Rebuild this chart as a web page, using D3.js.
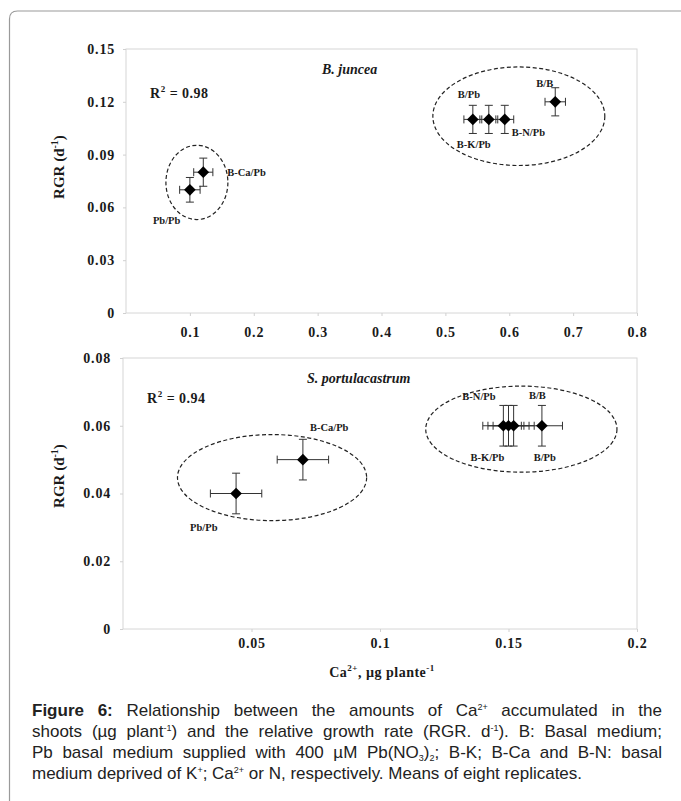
<!DOCTYPE html>
<html>
<head>
<meta charset="utf-8">
<script src="https://cdn.jsdelivr.net/npm/d3@7"></script>
<style>
body { margin: 0; background: #fff; }
svg { position: absolute; left: 0; top: 0; }
.caption { position: absolute; left: 32px; width: 630px; font-family: "Liberation Sans", Arial, sans-serif;
  font-size: 17px; color: #222; white-space: nowrap; }
.caption div { height: 21px; line-height: 21px; text-align: justify; text-align-last: justify; }
.caption div.last { text-align-last: left; }
.caption sup { font-size: 9px; line-height: 0; vertical-align: 6px; }
.caption sub { font-size: 9px; line-height: 0; vertical-align: -3px; }
</style>
</head>
<body>
<script>
var width = 681, height = 801;

// B. juncea (upper panel)
var junceaNames = ["Pb/Pb", "B-Ca/Pb", "B/Pb", "B-K/Pb", "B-N/Pb", "B/B"];
var junceaCa = [0.100, 0.121, 0.543, 0.568, 0.593, 0.672];
var junceaRgr = [0.070, 0.080, 0.110, 0.110, 0.110, 0.120];
var junceaCaErr = [0.016, 0.015, 0.014, 0.014, 0.014, 0.016];
var junceaRgrErr = [0.007, 0.008, 0.008, 0.008, 0.008, 0.008];
var junceaXTicks = [0.1, 0.2, 0.3, 0.4, 0.5, 0.6, 0.7, 0.8];
var junceaYTicks = [0, 0.03, 0.06, 0.09, 0.12, 0.15];
var junceaEllCx = [0.111, 0.615], junceaEllCy = [0.0742, 0.1118];
var junceaEllRx = [0.0485, 0.1346], junceaEllRy = [0.0211, 0.028];

// S. portulacastrum (lower panel)
var portuNames = ["Pb/Pb", "B-Ca/Pb", "B-N/Pb", "B-K/Pb", "B/Pb", "B/B"];
var portuCa = [0.044, 0.070, 0.148, 0.150, 0.152, 0.163];
var portuRgr = [0.040, 0.050, 0.060, 0.060, 0.060, 0.060];
var portuCaErr = [0.010, 0.010, 0.008, 0.008, 0.008, 0.008];
var portuRgrErr = [0.006, 0.006, 0.006, 0.006, 0.006, 0.006];
var portuXTicks = [0.05, 0.1, 0.15, 0.2];
var portuYTicks = [0, 0.02, 0.04, 0.06, 0.08];
var portuEllCx = [0.058, 0.155], portuEllCy = [0.0447, 0.059];
var portuEllRx = [0.0368, 0.0372], portuEllRy = [0.0127, 0.0127];

// label offsets in px from each point (layout only)
var junceaLabelDx = [-37, 24, -15, -32, 7, -19];
var junceaLabelDy = [34, 4, -21, 29, 17, -15];
var portuLabelDx = [-46, 7, -41, -38, 20, -13];
var portuLabelDy = [37, -29, -26, 35, 35, -27];

var serif = "'Liberation Serif', 'Times New Roman', serif";

var svg = d3.select("body").append("svg")
    .attr("width", width)
    .attr("height", height);

// page frame (rounded top-left corner)
svg.append("path")
    .attr("d", "M9.5," + height + " L9.5,19 Q9.5,11 17.5,11 L" + width + ",11")
    .style("fill", "none")
    .style("stroke", "#9a9a9a")
    .style("stroke-width", 1.2);

function drawPanel(cfg) {
    var x = d3.scaleLinear().domain(cfg.xDomain).range([cfg.left, cfg.right]);
    var y = d3.scaleLinear().domain(cfg.yDomain).range([cfg.bottom, cfg.top]);

    svg.append("rect")
        .attr("x", cfg.left).attr("y", cfg.top)
        .attr("width", cfg.right - cfg.left)
        .attr("height", cfg.bottom - cfg.top)
        .style("fill", "none")
        .style("stroke", "#d6d6d6");

    var fmt = function(d){ return String(d); };

    var gx = svg.append("g")
        .attr("transform", "translate(0," + cfg.bottom + ")")
        .call(d3.axisBottom(x).tickValues(cfg.xTicks).tickSize(3).tickFormat(fmt));
    gx.select(".domain").remove();
    gx.selectAll("line").style("stroke", "#d0d0d0");
    gx.selectAll("text")
        .attr("y", cfg.xLabelY).attr("dy", "0.35em")
        .style("font-family", serif).style("font-weight", "bold")
        .style("font-size", "14px").style("letter-spacing", "0.8px")
        .style("fill", "#1a1a1a");

    var gy = svg.append("g")
        .attr("transform", "translate(" + cfg.left + ",0)")
        .call(d3.axisLeft(y).tickValues(cfg.yTicks).tickSize(3).tickPadding(cfg.yPad).tickFormat(fmt));
    gy.select(".domain").remove();
    gy.selectAll("line").style("stroke", "#d0d0d0");
    gy.selectAll("text")
        .style("font-family", serif).style("font-weight", "bold")
        .style("font-size", "14px").style("letter-spacing", "0.8px")
        .style("fill", "#1a1a1a");

    // y axis title
    var yt = svg.append("text")
        .attr("transform", "translate(" + cfg.yTitleX + "," + cfg.yTitleY + ") rotate(-90)")
        .attr("text-anchor", "middle")
        .style("font-family", serif).style("font-weight", "bold")
        .style("font-size", "15px").style("fill", "#1a1a1a");
    yt.append("tspan").text("RGR (d");
    yt.append("tspan").attr("dy", "-6").style("font-size", "10px").text("-1");
    yt.append("tspan").attr("dy", "6").text(")");

    // species title
    svg.append("text")
        .attr("x", cfg.titleX).attr("y", cfg.titleY)
        .style("font-family", serif).style("font-weight", "bold").style("font-style", "italic")
        .style("font-size", "14px").style("fill", "#1a1a1a")
        .text(cfg.title);

    // R2
    var r2 = svg.append("text")
        .attr("x", cfg.r2X).attr("y", cfg.r2Y)
        .style("font-family", serif).style("font-weight", "bold")
        .style("font-size", "14px").style("letter-spacing", "0.5px").style("fill", "#1a1a1a");
    r2.append("tspan").text("R");
    r2.append("tspan").attr("dy", "-6").style("font-size", "9px").text("2");
    r2.append("tspan").attr("dy", "6").text(" = " + cfg.r2);

    // dashed ellipses
    svg.selectAll(null)
        .data(cfg.ellCx)
        .enter().append("ellipse")
        .attr("cx", function(d){ return x(d); })
        .attr("cy", function(d, i){ return y(cfg.ellCy[i]); })
        .attr("rx", function(d, i){ return x(d + cfg.ellRx[i]) - x(d); })
        .attr("ry", function(d, i){ return y(cfg.ellCy[i] - cfg.ellRy[i]) - y(cfg.ellCy[i]); })
        .style("fill", "none")
        .style("stroke", "#222")
        .style("stroke-width", 1.2)
        .style("stroke-dasharray", "4,2.5");

    var idx = d3.range(cfg.ca.length);
    var cap = 4;
    var bars = svg.append("g").style("stroke", "#333").style("stroke-width", 1);

    idx.forEach(function(i){
        var cx = x(cfg.ca[i]), cy = y(cfg.rgr[i]);
        var y0 = y(cfg.rgr[i] - cfg.rgrErr[i]), y1 = y(cfg.rgr[i] + cfg.rgrErr[i]);
        var x0 = x(cfg.ca[i] - cfg.caErr[i]), x1 = x(cfg.ca[i] + cfg.caErr[i]);
        bars.append("line").attr("x1", cx).attr("x2", cx).attr("y1", y0).attr("y2", y1);
        bars.append("line").attr("x1", cx - cap).attr("x2", cx + cap).attr("y1", y0).attr("y2", y0);
        bars.append("line").attr("x1", cx - cap).attr("x2", cx + cap).attr("y1", y1).attr("y2", y1);
        bars.append("line").attr("x1", x0).attr("x2", x1).attr("y1", cy).attr("y2", cy);
        bars.append("line").attr("x1", x0).attr("x2", x0).attr("y1", cy - cap).attr("y2", cy + cap);
        bars.append("line").attr("x1", x1).attr("x2", x1).attr("y1", cy - cap).attr("y2", cy + cap);
    });

    svg.selectAll(null)
        .data(idx)
        .enter().append("path")
        .attr("d", d3.symbol().type(d3.symbolSquare).size(68))
        .attr("transform", function(i){ return "translate(" + x(cfg.ca[i]) + "," + y(cfg.rgr[i]) + ") rotate(45)"; })
        .style("fill", "#000");

    svg.selectAll(null)
        .data(idx)
        .enter().append("text")
        .attr("x", function(i){ return x(cfg.ca[i]) + cfg.labelDx[i]; })
        .attr("y", function(i){ return y(cfg.rgr[i]) + cfg.labelDy[i]; })
        .style("font-family", serif).style("font-weight", "bold")
        .style("font-size", "10.5px").style("fill", "#1a1a1a")
        .text(function(i){ return cfg.names[i]; });
}

drawPanel({
    left: 126, right: 637, top: 49, bottom: 313,
    xDomain: [0, 0.8], yDomain: [0, 0.15],
    xTicks: junceaXTicks, yTicks: junceaYTicks,
    xLabelY: 19, yPad: 8,
    yTitleX: 64, yTitleY: 167,
    title: "B. juncea", titleX: 322, titleY: 74,
    r2: "0.98", r2X: 150, r2Y: 98,
    names: junceaNames, ca: junceaCa, rgr: junceaRgr,
    caErr: junceaCaErr, rgrErr: junceaRgrErr,
    ellCx: junceaEllCx, ellCy: junceaEllCy, ellRx: junceaEllRx, ellRy: junceaEllRy,
    labelDx: junceaLabelDx, labelDy: junceaLabelDy
});

drawPanel({
    left: 123, right: 637, top: 358, bottom: 629,
    xDomain: [0, 0.2], yDomain: [0, 0.08],
    xTicks: portuXTicks, yTicks: portuYTicks,
    xLabelY: 14, yPad: 9,
    yTitleX: 64, yTitleY: 476,
    title: "S. portulacastrum", titleX: 307, titleY: 383,
    r2: "0.94", r2X: 147, r2Y: 403,
    names: portuNames, ca: portuCa, rgr: portuRgr,
    caErr: portuCaErr, rgrErr: portuRgrErr,
    ellCx: portuEllCx, ellCy: portuEllCy, ellRx: portuEllRx, ellRy: portuEllRy,
    labelDx: portuLabelDx, labelDy: portuLabelDy
});

// x axis title
var xt = svg.append("text")
    .attr("x", 382).attr("y", 677)
    .attr("text-anchor", "middle")
    .style("font-family", serif).style("font-weight", "bold")
    .style("font-size", "14px").style("letter-spacing", "0.5px").style("fill", "#1a1a1a");
xt.append("tspan").text("Ca");
xt.append("tspan").attr("dy", "-6").style("font-size", "9px").text("2+");
xt.append("tspan").attr("dy", "6").text(", µg plante");
xt.append("tspan").attr("dy", "-6").style("font-size", "9px").text("-1");

// caption
var captionLines = [
    "<b>Figure 6:</b> Relationship between the amounts of Ca<sup>2+</sup> accumulated in the",
    "shoots (µg plant<sup>-1</sup>) and the relative growth rate (RGR. d<sup>-1</sup>). B: Basal medium;",
    "Pb basal medium supplied with 400 µM Pb(NO<sub>3</sub>)<sub>2</sub>; B-K; B-Ca and B-N: basal",
    "medium deprived of K<sup>+</sup>; Ca<sup>2+</sup> or N, respectively. Means of eight replicates."
];

d3.select("body").append("div")
    .attr("class", "caption")
    .style("top", "700px")
    .selectAll("div")
    .data(captionLines)
    .enter().append("div")
    .classed("last", function(d, i){ return i === captionLines.length - 1; })
    .html(function(d){ return d; });
</script>
</body>
</html>
